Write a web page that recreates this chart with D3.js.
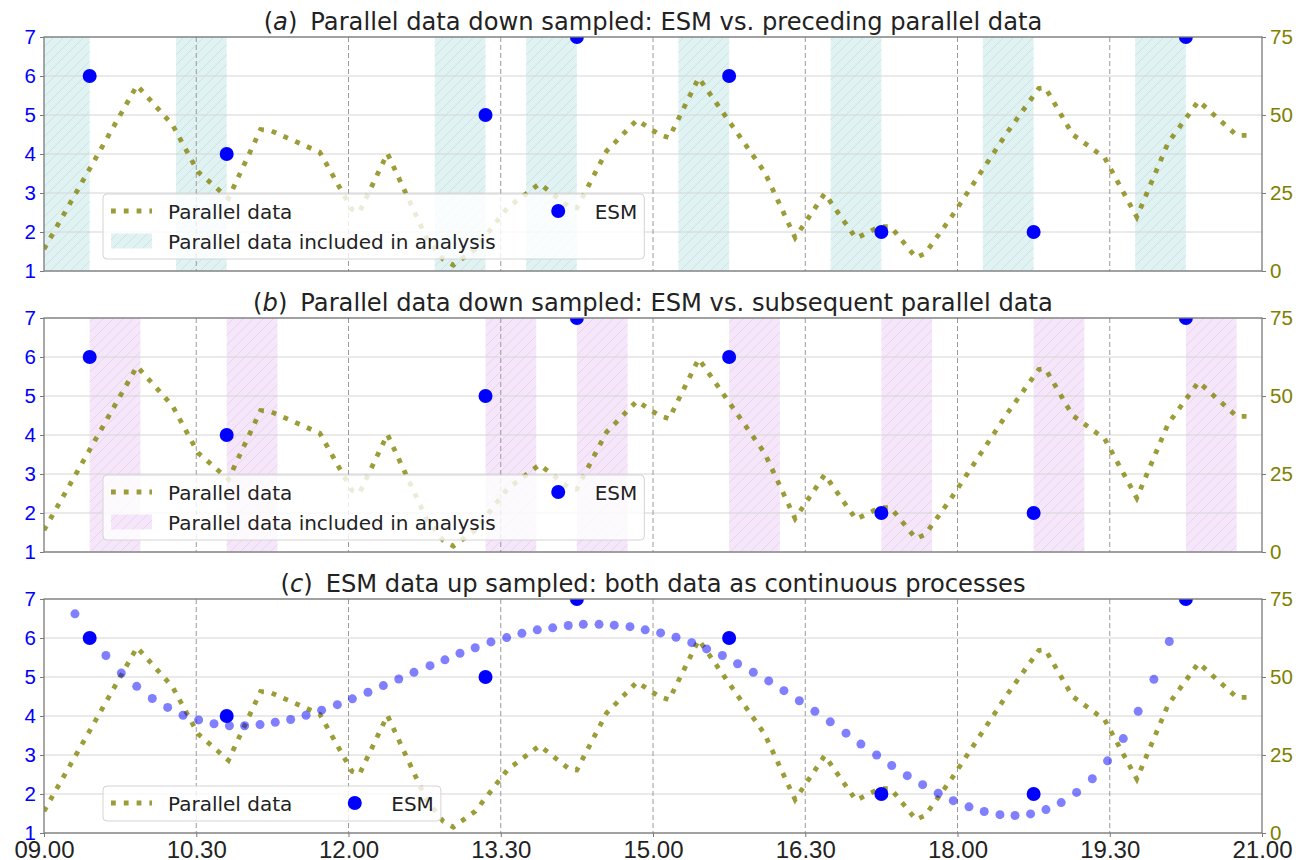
<!DOCTYPE html>
<html>
<head>
<meta charset="utf-8">
<script src="https://cdnjs.cloudflare.com/ajax/libs/d3/7.8.5/d3.min.js"></script>
<style>
  body { margin: 0; background: #fff; }
  svg { font-family: "DejaVu Sans", sans-serif; }
</style>
</head>
<body>
<svg id="chart" width="1306" height="860"></svg>
<script>
// all times are minutes after 09.00
const timeTicks = [0, 90, 180, 270, 360, 450, 540, 630, 720]
const timeTickLabels = ["09.00", "10.30", "12.00", "13.30", "15.00", "16.30", "18.00", "19.30", "21.00"]
const esmTicks = [1, 2, 3, 4, 5, 6, 7]
const parallelTicks = [0, 25, 50, 75]

// ESM answers
const esmTime = [27, 108, 261, 315, 405, 495, 585, 675]
const esmScore = [6, 4, 5, 7, 6, 2, 2, 7]

// parallel (sensor) data, right axis
const parallelTime = [0, 55, 76, 91, 109, 128, 134, 163, 182, 186.5, 203, 226, 236, 242, 255, 274, 293,
  310.5, 315, 332.5, 350.5, 363.5, 369.5, 387, 426, 444, 461.5, 480, 494, 500.5, 515.5, 521, 536.5,
  569.5, 588, 592, 608, 627, 646, 664.5, 682.5, 705, 715]
const parallelValue = [7.0, 59.5, 46.8, 31.8, 23.3, 45.3, 45.0, 38.1, 19.8, 18.9, 37.7, 10.7, 3.7, 1.9, 7.0, 20.3, 28.0,
  20.5, 20.2, 38.4, 48.4, 43.8, 42.7, 61.9, 31.7, 10.7, 24.8, 10.5, 14.2, 14.2, 4.3, 5.7, 17.4,
  44.5, 58.5, 58.7, 43.8, 36.3, 17.3, 41.1, 54.5, 43.5, 43.5]

// up sampled ESM (panel c)
const esmUpTime = [18.3, 36.6, 45.7, 54.8, 64.0, 73.1, 82.2, 91.4, 100.5, 109.6, 118.6, 127.7, 136.7, 145.8,
  154.9, 164.1, 173.4, 182.3, 191.5, 200.6, 209.7, 218.7, 228.2, 237.0, 245.9, 254.9, 264.2, 273.5, 282.5,
  291.6, 300.7, 309.9, 318.8, 328.1, 337.1, 346.4, 355.4, 364.5, 373.6, 382.9, 391.7, 401.0, 410.0, 419.3,
  428.4, 437.4, 446.5, 455.7, 464.8, 474.1, 482.9, 492.2, 501.1, 510.3, 519.4, 528.6, 537.5, 546.8, 555.8,
  565.1, 574.0, 583.2, 592.3, 601.3, 610.4, 619.7, 628.7, 638.0, 646.8, 656.1, 665.2]
const esmUpScore = [6.62, 5.55, 5.10, 4.76, 4.45, 4.22, 4.02, 3.90, 3.80, 3.75, 3.75, 3.78, 3.84, 3.91,
  4.02, 4.15, 4.29, 4.44, 4.61, 4.78, 4.95, 5.12, 5.29, 5.44, 5.61, 5.75, 5.90, 6.01, 6.12,
  6.21, 6.26, 6.32, 6.35, 6.35, 6.33, 6.29, 6.21, 6.13, 6.02, 5.88, 5.72, 5.55, 5.34, 5.12,
  4.90, 4.65, 4.39, 4.12, 3.85, 3.56, 3.28, 3.00, 2.73, 2.47, 2.24, 2.02, 1.83, 1.67, 1.55,
  1.47, 1.45, 1.49, 1.60, 1.78, 2.04, 2.39, 2.85, 3.42, 4.12, 4.94, 5.91]

const windowMin = 30
const panelLetters = ["a", "b", "c"]
const panelTitles = [
  "Parallel data down sampled: ESM vs. preceding parallel data",
  "Parallel data down sampled: ESM vs. subsequent parallel data",
  "ESM data up sampled: both data as continuous processes"
]

const OLIVE = "#808000", BLUE = "#0000ff"
const W = 1218, H = 234, LEFT = 44
const tops = [37, 318, 599]

const svg = d3.select("#chart")
const x = d3.scaleLinear().domain([0, 720]).range([0, W])
const yL = d3.scaleLinear().domain([1, 7]).range([H, 0])
const yR = d3.scaleLinear().domain([0, 75]).range([H, 0])

const defs = svg.append("defs")
const bandStyles = [
  { id: "hatchA", base: "#e1f2f2", line: "#c9e4e4" },
  { id: "hatchB", base: "#f5e7f9", line: "#e8d3f0" }
]
bandStyles.forEach(s => {
  const p = defs.append("pattern").attr("id", s.id)
      .attr("patternUnits", "userSpaceOnUse").attr("width", 10).attr("height", 10)
  p.append("rect").attr("width", 10).attr("height", 10).attr("fill", s.base)
  p.append("path").attr("d", "M0,10 L10,0 M-2,2 L2,-2 M8,12 L12,8")
      .attr("stroke", s.line).attr("stroke-width", 1)
})
defs.append("clipPath").attr("id", "plotClip")
    .append("rect").attr("width", W).attr("height", H)

const parallelLine = d3.line()
    .x((d, i) => x(parallelTime[i]))
    .y(d => yR(d))

function styleDotted(sel) {
  return sel.attr("fill", "none").attr("stroke", OLIVE).attr("stroke-opacity", 0.78)
      .attr("stroke-width", 4.8).attr("stroke-dasharray", "4.8 8").attr("stroke-linecap", "butt")
}

function drawLegend(g, entries, patchId) {
  const nRows = d3.max(entries, e => e.row) + 1
  const bottom = H - 12
  const rowY = r => bottom - 18 - (nRows - 1 - r) * 30
  const box = g.append("rect").attr("rx", 4).attr("fill", "#fff").attr("fill-opacity", 0.8)
      .attr("stroke", "#d4d4d4").attr("stroke-width", 1)
  const handleW = 41, gap = 16
  let colX = 59 + 8, lastEnd = 0
  d3.groups(entries, e => e.col).forEach(([c, items]) => {
    let maxEnd = 0
    items.forEach(e => {
      const y = rowY(e.row)
      if (e.type === "line") {
        styleDotted(g.append("line").attr("x1", colX).attr("x2", colX + handleW).attr("y1", y).attr("y2", y))
      } else if (e.type === "patch") {
        g.append("rect").attr("x", colX).attr("y", y - 7.5).attr("width", handleW).attr("height", 15)
            .attr("fill", `url(#${patchId})`)
      } else {
        g.append("circle").attr("cx", colX + handleW / 2).attr("cy", y).attr("r", 7).attr("fill", BLUE)
      }
      const t = g.append("text").attr("x", colX + handleW + gap).attr("y", y).attr("dy", "0.38em")
          .style("font-size", "20px").attr("fill", "#222").text(e.label)
      maxEnd = Math.max(maxEnd, colX + handleW + gap + t.node().getComputedTextLength())
    })
    lastEnd = maxEnd
    colX = maxEnd + 42
  })
  const top = rowY(0) - 17
  box.attr("x", 59).attr("y", top).attr("width", lastEnd + 7 - 59).attr("height", bottom - top)
}

tops.forEach((top, i) => {
  const g = svg.append("g").attr("transform", `translate(${LEFT},${top})`)

  // analysed windows of parallel data
  if (i < 2) {
    g.append("g").attr("clip-path", "url(#plotClip)")
      .selectAll("rect").data(esmTime).join("rect")
        .attr("x", d => x(i === 0 ? Math.max(0, d - windowMin) : d))
        .attr("width", d => i === 0 ? x(d) - x(Math.max(0, d - windowMin)) : x(Math.min(720, d + windowMin)) - x(d))
        .attr("y", 0).attr("height", H)
        .attr("fill", `url(#${bandStyles[i].id})`)
  }

  // grid
  g.append("g").selectAll("line").data(esmTicks).join("line")
      .attr("x1", 0).attr("x2", W).attr("y1", d => yL(d)).attr("y2", d => yL(d))
      .attr("stroke", "#d6d6d6").attr("stroke-width", 1.2)
  g.append("g").selectAll("line").data(timeTicks.slice(1, -1)).join("line")
      .attr("x1", d => x(d)).attr("x2", d => x(d)).attr("y1", 0).attr("y2", H)
      .attr("stroke", "#9a9a9a").attr("stroke-width", 1).attr("stroke-dasharray", "5 3")

  const plot = g.append("g").attr("clip-path", "url(#plotClip)")
  styleDotted(plot.append("path").datum(parallelValue).attr("d", parallelLine))

  if (i === 2) {
    plot.append("g").selectAll("circle").data(esmUpScore).join("circle")
        .attr("cx", (d, j) => x(esmUpTime[j])).attr("cy", d => yL(d)).attr("r", 4.5)
        .attr("fill", BLUE).attr("fill-opacity", 0.5)
  }
  plot.append("g").selectAll("circle").data(esmScore).join("circle")
      .attr("cx", (d, j) => x(esmTime[j])).attr("cy", d => yL(d)).attr("r", 7)
      .attr("fill", BLUE)

  // frame
  g.append("rect").attr("width", W).attr("height", H).attr("fill", "none")
      .attr("stroke", "#7a7a7a").attr("stroke-width", 1.3)

  // axes
  const left = g.append("g").call(d3.axisLeft(yL).tickValues(esmTicks).tickFormat(d3.format("d")).tickSize(4).tickPadding(4))
  const right = g.append("g").attr("transform", `translate(${W},0)`)
      .call(d3.axisRight(yR).tickValues(parallelTicks).tickSize(4).tickPadding(4))
  ;[left, right].forEach(a => {
    a.select(".domain").remove()
    a.selectAll("line").attr("stroke", "#7a7a7a")
    a.selectAll("text").style("font-size", "20.5px").attr("font-family", null)
  })
  left.selectAll("text").attr("fill", BLUE)
  right.selectAll("text").attr("fill", OLIVE)

  if (i === 2) {
    const bottom = g.append("g").attr("transform", `translate(0,${H})`)
        .call(d3.axisBottom(x).tickValues(timeTicks).tickFormat((d, j) => timeTickLabels[j]).tickSize(4).tickPadding(4))
    bottom.select(".domain").remove()
    bottom.selectAll("line").attr("stroke", "#7a7a7a")
    bottom.selectAll("text").style("font-size", "24px").attr("fill", "#222").attr("font-family", null)
  }

  // title
  const title = g.append("text").attr("x", W / 2).attr("y", -7).attr("text-anchor", "middle")
      .style("font-size", "24.2px").attr("fill", "#222")
  title.append("tspan").text("(")
  title.append("tspan").style("font-style", "italic").text(panelLetters[i])
  title.append("tspan").text(")")
  title.append("tspan").attr("dx", 13).text(panelTitles[i])

  // legend
  if (i < 2) {
    drawLegend(g, [
      { type: "line", label: "Parallel data", col: 0, row: 0 },
      { type: "patch", label: "Parallel data included in analysis", col: 0, row: 1 },
      { type: "dot", label: "ESM", col: 1, row: 0 }
    ], bandStyles[i].id)
  } else {
    drawLegend(g, [
      { type: "line", label: "Parallel data", col: 0, row: 0 },
      { type: "dot", label: "ESM", col: 1, row: 0 }
    ])
  }
})
</script>
</body>
</html>
